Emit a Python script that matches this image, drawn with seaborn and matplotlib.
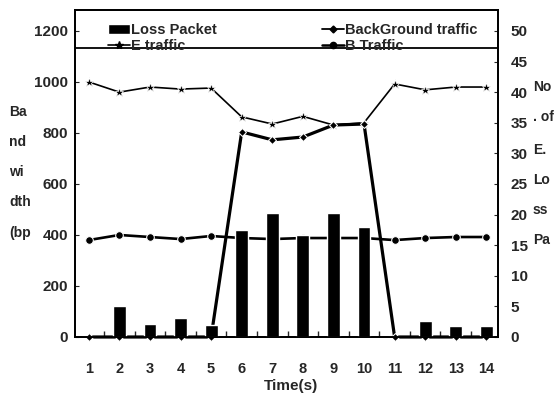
"""Bandwidth and loss packets over time, twin-axis chart."""

import matplotlib
matplotlib.use("Agg")
import matplotlib.pyplot as plt
from matplotlib.lines import Line2D
from matplotlib.patches import Patch
import seaborn as sns

# data
time_s = [1, 2, 3, 4, 5, 6, 7, 8, 9, 10, 11, 12, 13, 14]
loss_packet = [0, 5.1, 2.1, 3.1, 2.0, 17.4, 20.2, 16.7, 20.2, 18.0, 0, 2.6, 1.8, 1.8]
e_traffic = [1000, 960, 980, 972, 976, 863, 835, 865, 831, 840, 992, 969, 980, 980]
background_traffic = [0, 0, 0, 0, 0, 804, 773, 784, 831, 835, 0, 0, 0, 0]
b_traffic = [380, 400, 392, 384, 396, 388, 384, 388, 388, 388, 380, 388, 392, 392]
left_ticks = [0, 200, 400, 600, 800, 1000, 1200]
right_ticks = [0, 5, 10, 15, 20, 25, 30, 35, 40, 45, 50]

sns.set_style("ticks")
plt.rcParams["font.family"] = ["Liberation Sans", "DejaVu Sans"]
plt.rcParams["font.weight"] = "bold"

W, H = 559, 398
fig = plt.figure(figsize=(W / 100, H / 100), dpi=100)
ax = fig.add_axes([75 / W, 1 - 337 / H, 423 / W, 327 / H])
ax2 = ax.twinx()

# lines on bandwidth axis
sns.lineplot(x=time_s, y=e_traffic, ax=ax, color="black", lw=1.2, marker="*",
             markersize=6.5, markeredgewidth=0.5, legend=False, clip_on=False)
sns.lineplot(x=time_s, y=background_traffic, ax=ax, color="black", lw=2.3, marker="D",
             markersize=4.5, legend=False, clip_on=False)
sns.lineplot(x=time_s, y=b_traffic, ax=ax, color="black", lw=1.9, marker="o",
             markersize=5.5, legend=False, clip_on=False)

# bars on loss axis
sns.barplot(x=time_s, y=loss_packet, ax=ax2, native_scale=True, color="black",
            saturation=1, width=0.42, errorbar=None)

ax.set_xlim(0.55, 14.38)
ax.set_ylim(0, 1282)
ax2.set_ylim(0, 1282 / 24)
ax.set_xticks(time_s)
ax.set_xticks([t + 0.5 for t in time_s[:-1]], minor=True)
ax.set_yticks(left_ticks)
ax2.set_yticks(right_ticks)
ax.set_xlabel("")
ax.set_ylabel("")
ax2.set_ylabel("")

ax.tick_params(axis="x", which="major", length=0, pad=18, labelsize=10.5)
ax.tick_params(axis="x", which="minor", direction="in", length=4, width=1, bottom=True)
ax.tick_params(axis="y", direction="in", length=3, pad=5, labelsize=11)
ax2.tick_params(axis="y", direction="in", length=3, pad=9, labelsize=11)
for a in (ax, ax2):
    for s in a.spines.values():
        s.set_visible(True)
        s.set_color("black")
        s.set_linewidth(1.3)
    for lab in a.get_xticklabels() + a.get_yticklabels():
        lab.set_fontweight("bold")

# box line under the legend
ax.axhline(1133, color="black", lw=1.3)

leg_kw = dict(frameon=False, borderpad=0, borderaxespad=0,
              handlelength=1.5, handletextpad=0.1, labelspacing=0.15,
              bbox_transform=fig.transFigure, loc="upper left",
              prop={"weight": "bold", "size": 10.5})
leg1 = ax2.legend(
    [Patch(facecolor="black"),
     Line2D([], [], color="black", lw=1.2, marker="*", markersize=6)],
    ["Loss Packet", "E traffic"], bbox_to_anchor=(108 / W, 1 - 23 / H), **leg_kw)
ax2.add_artist(leg1)
ax2.legend(
    [Line2D([], [], color="black", lw=1.3, marker="D", markersize=3.5),
     Line2D([], [], color="black", lw=1.8, marker="o", markersize=4.5)],
    ["BackGround traffic", "B Traffic"], bbox_to_anchor=(322 / W, 1 - 23 / H), **leg_kw)

# axis labels, broken into short lines as in the original
for txt, yy in zip(["Ba", "nd", "wi", "dth", "(bp"], [112, 142, 172, 202, 233]):
    fig.text(9 / W, 1 - yy / H, txt, ha="left", va="center", fontsize=10, fontweight="bold")
for txt, yy in zip(["No", ". of", "E.", "Lo", "ss", "Pa"], [87, 117, 150, 180, 210, 240]):
    fig.text(533 / W, 1 - yy / H, txt, ha="left", va="center", fontsize=10, fontweight="bold")
fig.text(291 / W, 1 - 386 / H, "Time(s)", ha="center", va="center", fontsize=11, fontweight="bold")

fig.savefig("out.png", dpi=100)
